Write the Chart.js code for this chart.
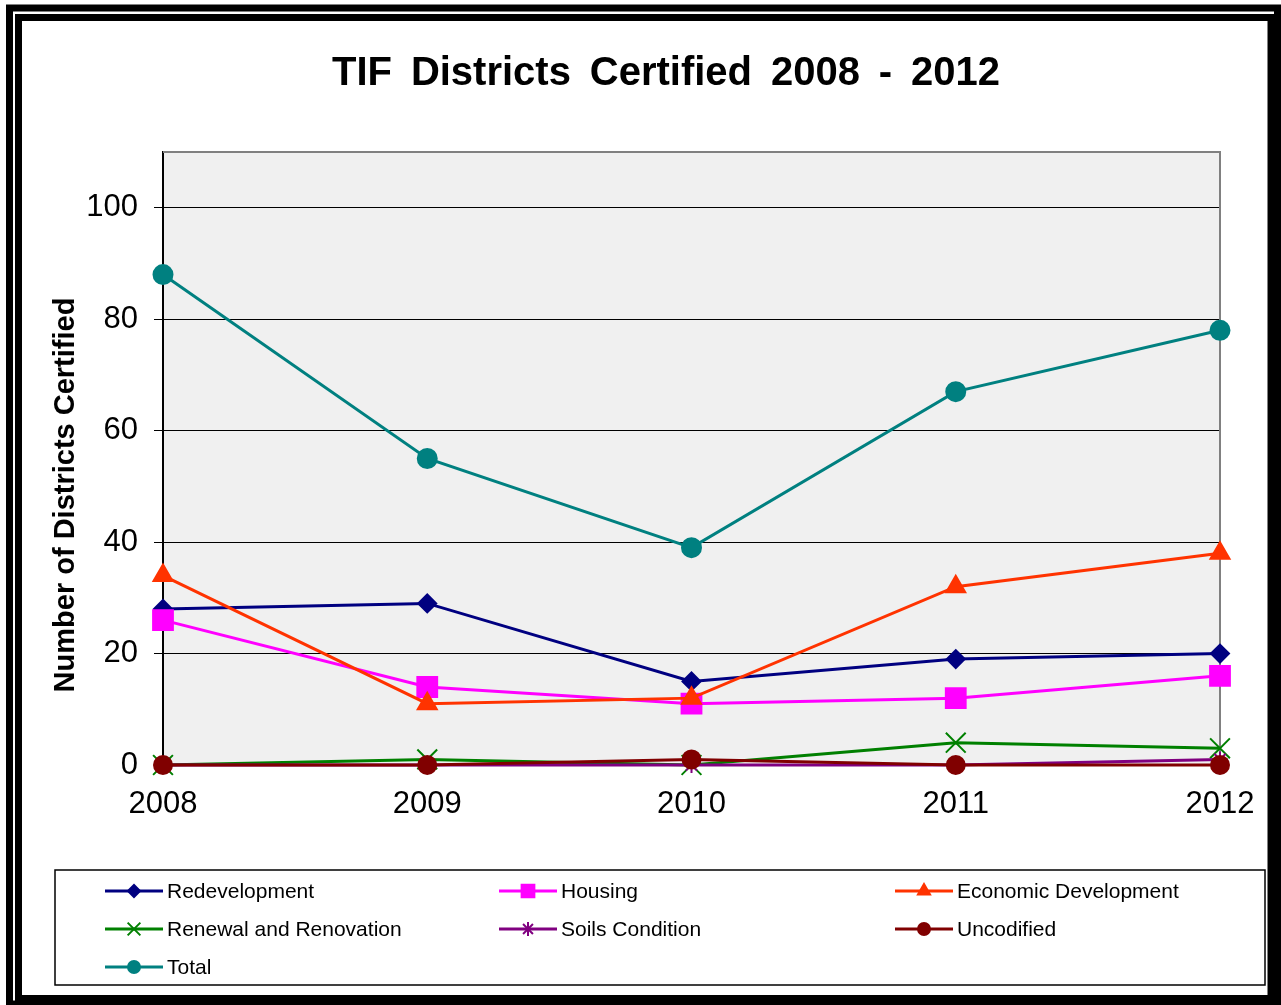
<!DOCTYPE html>
<html>
<head>
<meta charset="utf-8">
<script src="https://cdn.jsdelivr.net/npm/chart.js@4"></script>
<style>
  html, body { margin: 0; padding: 0; background: #fff; }
  #wrap { position: relative; width: 1281px; height: 1005px; }
</style>
</head>
<body>
<div id="wrap"><canvas id="tifChart" width="1281" height="1005"></canvas></div>
<script>
// chart data
const years = ['2008', '2009', '2010', '2011', '2012'];
const redevelopment = [28, 29, 15, 19, 20];
const housing = [26, 14, 11, 12, 16];
const economicDevelopment = [34, 11, 12, 32, 38];
const renewalRenovation = [0, 1, 0, 4, 3];
const soilsCondition = [0, 0, 0, 0, 1];
const uncodified = [0, 0, 1, 0, 0];
const total = [88, 55, 39, 67, 78];
const yTicks = [0, 20, 40, 60, 80, 100];

const series = [
    { label: 'Redevelopment', data: redevelopment, color: '#000080', style: 'rectRot', radius: 9, legendRadius: 6 },
    { label: 'Housing', data: housing, color: '#FF00FF', style: 'rect', radius: 14, legendRadius: 9 },
    { label: 'Economic Development', data: economicDevelopment, color: '#FF3300', style: 'triangle', radius: 11, legendRadius: 7 },
    { label: 'Renewal and Renovation', data: renewalRenovation, color: '#008000', style: 'crossRot', radius: 14, legendRadius: 9 },
    { label: 'Soils Condition', data: soilsCondition, color: '#800080', style: 'star', radius: 8, legendRadius: 7 },
    { label: 'Uncodified', data: uncodified, color: '#800000', style: 'circle', radius: 9, legendRadius: 6 },
    { label: 'Total', data: total, color: '#008080', style: 'circle', radius: 9.5, legendRadius: 6 }
];

const PLOT_LEFT = 163, PLOT_RIGHT = 1220, PLOT_TOP = 152, PLOT_BOTTOM = 765;
const FONT = '"Liberation Sans", Arial, sans-serif';

// frame, plot background, titles and legend
const framePlugin = {
    id: 'frame',
    beforeDraw(chart) {
        const ctx = chart.ctx;
        const area = chart.chartArea;
        ctx.save();
        ctx.fillStyle = '#fff';
        ctx.fillRect(0, 0, chart.width, chart.height);
        ctx.fillStyle = '#f0f0f0';
        ctx.fillRect(area.left, area.top, area.right - area.left, area.bottom - area.top);
        ctx.strokeStyle = '#000';
        ctx.lineWidth = 7;
        ctx.strokeRect(9.5, 8, 1277.5 - 9.5, 1004 - 8);
        ctx.strokeRect(18.5, 17.5, 1271 - 18.5, 998.5 - 17.5);
        ctx.restore();
    },
    beforeDatasetsDraw(chart) {
        const ctx = chart.ctx;
        const area = chart.chartArea;
        ctx.save();
        ctx.strokeStyle = '#808080';
        ctx.lineWidth = 2;
        ctx.beginPath();
        ctx.moveTo(area.left, area.top);
        ctx.lineTo(area.right, area.top);
        ctx.lineTo(area.right, area.bottom);
        ctx.stroke();
        ctx.restore();
    },
    afterDraw(chart) {
        const ctx = chart.ctx;
        ctx.save();
        // chart title
        ctx.fillStyle = '#000';
        ctx.font = 'bold 41px ' + FONT;
        ctx.textAlign = 'center';
        ctx.textBaseline = 'middle';
        ctx.wordSpacing = '8px';
        ctx.fillText('TIF Districts Certified 2008 - 2012', 666, 74, 668);
        ctx.wordSpacing = '0px';

        // y axis title (sits lower than the axis centre in the original)
        ctx.save();
        ctx.translate(66, 495);
        ctx.rotate(-Math.PI / 2);
        ctx.font = 'bold 29px ' + FONT;
        ctx.fillText('Number of Districts Certified', 0, 0, 400);
        ctx.restore();

        // legend box
        ctx.fillStyle = '#fff';
        ctx.fillRect(55, 870, 1210, 115);
        ctx.strokeStyle = '#000';
        ctx.lineWidth = 1.5;
        ctx.strokeRect(55, 870, 1210, 115);
        const cols = [105, 499, 895];
        const rows = [891, 929, 967];
        ctx.font = '21px ' + FONT;
        ctx.textAlign = 'left';
        ctx.textBaseline = 'middle';
        chart.data.datasets.forEach((ds, i) => {
            const x = cols[i % 3];
            const y = rows[Math.floor(i / 3)];
            ctx.strokeStyle = ds.borderColor;
            ctx.lineWidth = 3;
            ctx.beginPath();
            ctx.moveTo(x, y);
            ctx.lineTo(x + 58, y);
            ctx.stroke();
            ctx.fillStyle = ds.borderColor;
            ctx.lineWidth = 2;
            Chart.helpers.drawPoint(ctx, { pointStyle: ds.pointStyle, radius: ds.legendRadius, rotation: 0, borderWidth: 2 }, x + 29, y);
            ctx.fillStyle = '#000';
            ctx.fillText(ds.label, x + 62, y + 1);
        });
        ctx.restore();
    }
};

const datasets = series.map((s, i) => ({
    label: s.label,
    data: s.data,
    borderColor: s.color,
    backgroundColor: s.color,
    pointBackgroundColor: s.color,
    pointBorderColor: s.color,
    pointStyle: s.style,
    pointRadius: s.radius,
    pointHoverRadius: s.radius,
    pointBorderWidth: 2,
    borderWidth: 3,
    tension: 0,
    fill: false,
    clip: false,
    legendRadius: s.legendRadius,
    order: series.length - i // later series drawn on top
}));

new Chart(document.getElementById('tifChart'), {
    type: 'line',
    data: { labels: years, datasets: datasets },
    plugins: [framePlugin],
    options: {
        responsive: false,
        animation: false,
        events: [],
        layout: { padding: { top: PLOT_TOP, left: 30, right: 1281 - PLOT_RIGHT, bottom: 1005 - PLOT_BOTTOM - 60 } },
        plugins: { legend: { display: false }, title: { display: false }, tooltip: { enabled: false } },
        scales: {
            x: {
                offset: false,
                grid: { display: false, drawTicks: false },
                border: { display: false },
                ticks: { color: '#000', padding: 21, maxRotation: 0, font: { size: 31, family: FONT } },
                afterFit: scale => { scale.height = 60; }
            },
            y: {
                min: 0,
                max: 110,
                afterBuildTicks: axis => { axis.ticks = yTicks.map(v => ({ value: v })); },
                grid: { color: '#000', lineWidth: 1, drawTicks: true, tickLength: 9, tickColor: '#000' },
                border: { display: true, color: '#000', width: 2 },
                ticks: { color: '#000', padding: 16, font: { size: 31, family: FONT } },
                title: { display: false },
                afterFit: scale => { scale.width = PLOT_LEFT - 30; }
            }
        }
    }
});
</script>
</body>
</html>
